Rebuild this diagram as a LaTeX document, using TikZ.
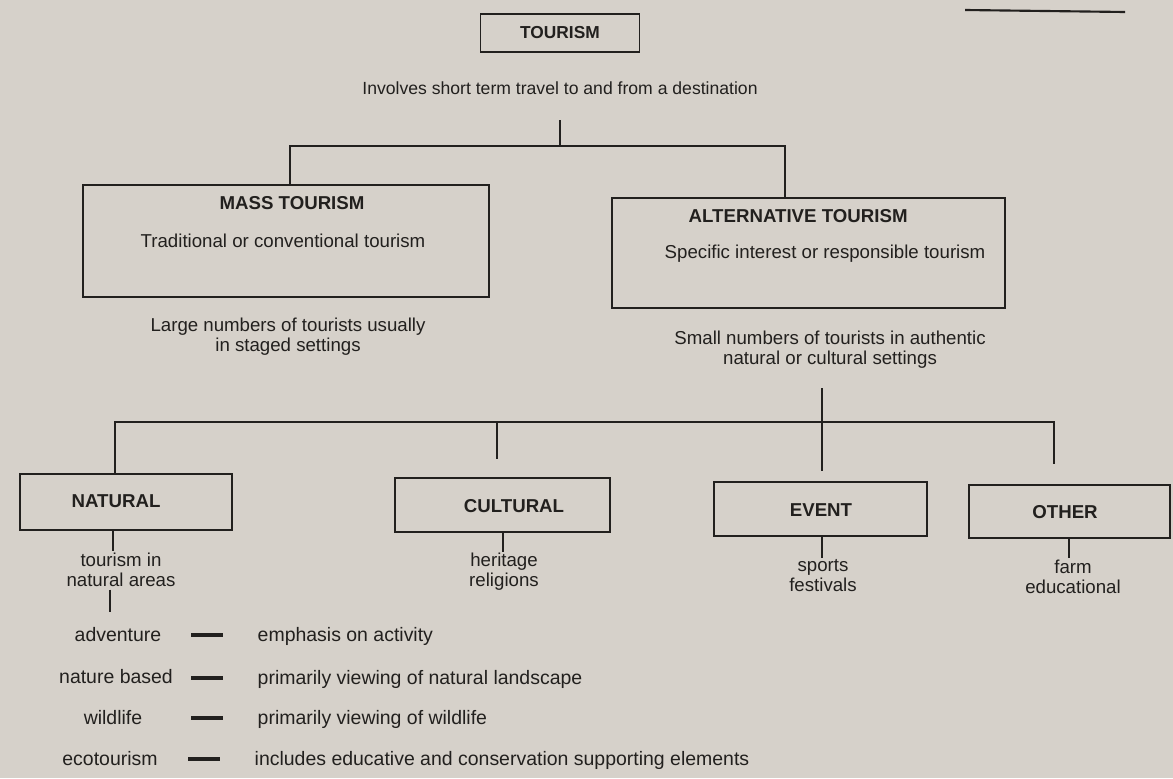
\documentclass[tikz,border=0pt]{standalone}
\usepackage{fontspec}
\setmainfont{Liberation Sans}
\usetikzlibrary{calc}
\definecolor{paper}{RGB}{214,209,202}
\definecolor{ink}{RGB}{34,32,30}
\begin{document}
\begin{tikzpicture}[x=0.75pt,y=-0.75pt,
  every node/.style={text=ink,font=\fontsize{14}{15}\selectfont},
  small/.style={font=\fontsize{13.2}{15}\selectfont},
  big/.style={font=\fontsize{14.6}{15}\selectfont},
  box/.style={draw=ink,line width=1.3pt,inner sep=0pt},
  conn/.style={draw=ink,line width=2.2pt},
  tick/.style={draw=ink,line width=1.5pt},
  dashline/.style={draw=ink,line width=2.6pt},
  title/.style={font=\fontsize{14}{15}\selectfont\bfseries},
  two/.style={align=center,font=\fontsize{14}{15}\selectfont}]
\useasboundingbox (0,0) rectangle (1173,778);
\fill[paper] (0,0) rectangle (1173,778);
% page rule
\draw[ink,line width=1.6pt] (965,10) -- (1125,12);
% top
\node[box,minimum width=119.25pt,minimum height=28.5pt] (tour) at (560,33) {};
\node[title,font=\fontsize{13}{15}\selectfont\bfseries] (tourt) at (560,33) {TOURISM};
\node[small] (inv) at (560,88) {Involves short term travel to and from a destination};
% mass / alternative boxes
\node[box,minimum width=304.5pt,minimum height=84pt] (mass) at (286,241) {};
\node[title] (masst) at (292,203) {MASS TOURISM};
\node (masss) at (283,241) {Traditional or conventional tourism};
\node[box,minimum width=294.75pt,minimum height=82.5pt] (alt) at (808.5,253) {};
\node[title,anchor=west] (altt) at (684,216) {ALTERNATIVE TOURISM};
\node (alts) at (825,254) {Specific interest or responsible tourism};
\coordinate (t0) at (560,120);
\coordinate (t1) at (560,146);
\coordinate (mb) at (290,146);
\coordinate (ab) at (785,146);
\draw[conn] (t0) -- (t1);
\draw[conn] (mass.north -| mb) -- (mb) -- (ab) -- (alt.north -| ab);
\node[two] (massd) at (288,337) {Large numbers of tourists usually\\in staged settings};
\node[two] (altd) at (830,350) {Small numbers of tourists in authentic\\natural or cultural settings};
% lower boxes
\node[box,minimum width=159pt,minimum height=42pt] (nat) at (126,502) {};
\node[title] (natt) at (116,501) {NATURAL};
\node[box,minimum width=161.25pt,minimum height=40.5pt] (cul) at (502.5,505) {};
\node[title] (cult) at (514,506) {CULTURAL};
\node[box,minimum width=159.75pt,minimum height=40.5pt] (evt) at (820.5,509) {};
\node[title] (evtt) at (821,510) {EVENT};
\node[box,minimum width=150.75pt,minimum height=39.75pt] (oth) at (1069.5,511.5) {};
\node[title] (otht) at (1065,512) {OTHER};
\coordinate (b0) at (822,388);
\coordinate (bn) at (115,422);
\coordinate (bc) at (497,422);
\coordinate (be) at (822,422);
\coordinate (bo) at (1054,422);
\draw[conn] (nat.north -| bn) -- (bn) -- (bo) -- ($(oth.north -| bo)+(0,-20)$);
\draw[conn] (b0) -- ($(evt.north -| b0)+(0,-10)$);
\draw[conn] (bc) -- ($(cul.north -| bc)+(0,-18)$);
% descriptions
\node[two] (natd) at (121,570) {tourism in\\natural areas};
\node[two] (culd) at (504,572) {heritage\\religions};
\node[two] (evtd) at (823,576) {sports\\festivals};
\node[two] (othd) at (1073,577) {farm\\educational};
\draw[tick] (nat.south -| 113,0) -- ($(natd.north -| 113,0)+(0,3)$);
\draw[tick] (cul.south -| 503,0) -- ($(culd.north -| 503,0)+(0,3)$);
\draw[tick] (evt.south -| 822,0) -- ($(evtd.north -| 822,0)+(0,3)$);
\draw[tick] (oth.south -| 1069,0) -- ($(othd.north -| 1069,0)+(0,3)$);
\coordinate (nl) at (110,612);
\draw[tick] ($(natd.south -| nl)+(0,-2)$) -- (nl);
% legend
\node[big] (l1) at (118,635) {adventure};
\node[big] (l2) at (116,677) {nature based};
\node[big] (l3) at (113,718) {wildlife};
\node[big] (l4) at (110,759) {ecotourism};
\node[big,anchor=west] (r1) at (253,636) {emphasis on activity};
\node[big,anchor=west] (r2) at (253,679) {primarily viewing of natural landscape};
\node[big,anchor=west] (r3) at (253,719) {primarily viewing of wildlife};
\node[big,anchor=west] (r4) at (250,760) {includes educative and conservation supporting elements};
\foreach \i in {1,2,3,4}{
  \draw[dashline] ($(r\i.west)+(-62,-1)$) -- ($(r\i.west)+(-30,-1)$);
}
\end{tikzpicture}
\end{document}
